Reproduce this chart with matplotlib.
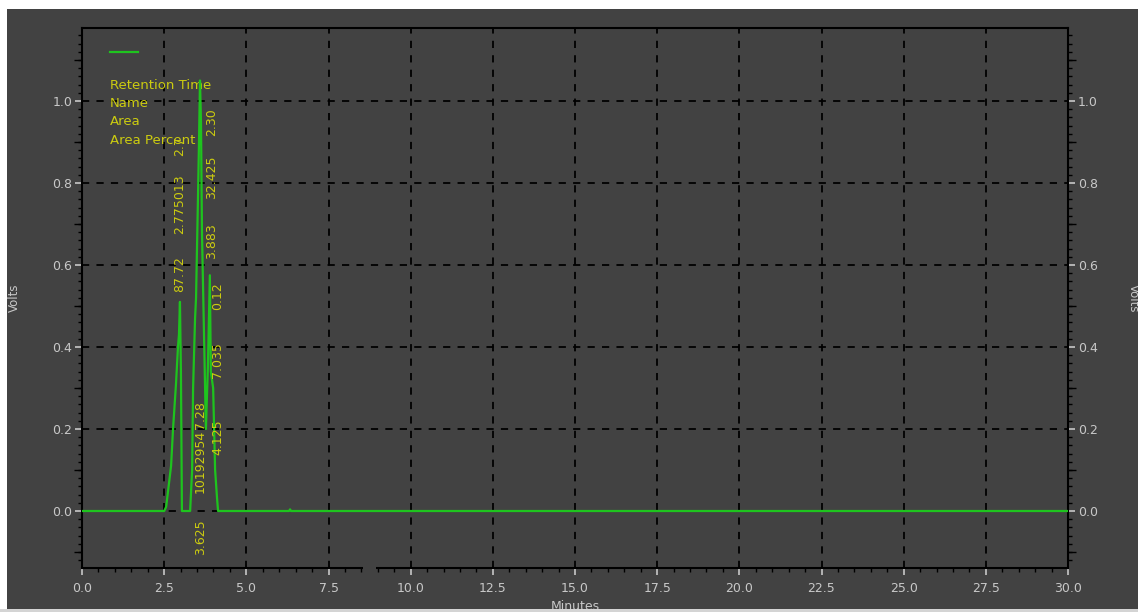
import matplotlib
matplotlib.use("Agg")
import matplotlib.pyplot as plt
from matplotlib.patches import Rectangle
from matplotlib.ticker import MultipleLocator, FixedLocator, FormatStrFormatter
import matplotlib.transforms as mtransforms

# chromatogram trace (minutes, volts)
time_min = [0.0, 2.50, 2.56, 2.62, 2.71, 2.77, 2.86, 2.92, 2.95, 2.98, 3.01, 3.04,
            3.29, 3.35, 3.38, 3.44, 3.47, 3.53, 3.56, 3.59, 3.62, 3.65, 3.71, 3.77,
            3.83, 3.89, 3.92, 3.99, 4.05, 4.11, 4.14, 6.30, 6.33, 6.36, 30.0]
volts = [0.0, 0.0, 0.01, 0.05, 0.11, 0.20, 0.31, 0.40, 0.43, 0.51, 0.34, 0.0,
         0.0, 0.10, 0.30, 0.47, 0.52, 0.77, 0.90, 1.05, 0.95, 0.68, 0.44, 0.20,
         0.35, 0.575, 0.34, 0.30, 0.10, 0.03, 0.0, 0.0, 0.004, 0.0, 0.0]

# peak annotations (text, minutes, volts at text start)
label_text = ["87.72", "2.775013", "2.7", "2.30", "32.425", "3.883",
              "0.12", "7.035", "4.125", "7.28", "10192954", "3.625"]
label_t = [2.97, 2.97, 2.97, 3.93, 3.93, 3.93,
           4.12, 4.12, 4.12, 3.60, 3.60, 3.60]
label_v = [0.535, 0.675, 0.865, 0.915, 0.76, 0.615,
           0.49, 0.325, 0.137, 0.20, 0.045, -0.107]

legend_fields = ["Retention Time", "Name", "Area", "Area Percent"]

BG = "#424242"
GREEN = "#1ec41e"
YELLOW = "#cccc10"
TICKC = "#c8c8c8"

fig = plt.figure(figsize=(11.38, 6.12), dpi=100, facecolor="white")
fig.patches.append(Rectangle((7 / 1138, 3 / 612), 1 - 7 / 1138, 600 / 612,
                             transform=fig.transFigure, facecolor=BG,
                             edgecolor="none", zorder=-10))
fig.add_artist(Rectangle((0, 0), 1, 3 / 612, transform=fig.transFigure,
                         facecolor="#d4d4d4", edgecolor="none", zorder=10))

ax = fig.add_axes([82 / 1138, 44 / 612, 986 / 1138, 540 / 612])
ax.set_facecolor(BG)
ax.set_xlim(0, 30)
ax.set_ylim(-0.139, 1.178)

ax.plot(time_min, volts, color=GREEN, lw=1.6, zorder=4)

for txt, t, v in zip(label_text, label_t, label_v):
    ax.text(t, v, txt, rotation=90, ha="center", va="bottom",
            color=YELLOW, fontsize=9, zorder=5)

# legend block
ax.plot([0.028, 0.057], [0.956, 0.956], color=GREEN, lw=1.6, transform=ax.transAxes)
for i, name in enumerate(legend_fields):
    ax.text(0.028, 0.893 - i * 0.0335, name, transform=ax.transAxes,
            color=YELLOW, fontsize=9.5, va="center", ha="left")

# grid & ticks
ax.xaxis.set_major_locator(MultipleLocator(2.5))
ax.xaxis.set_minor_locator(MultipleLocator(0.5))
ax.yaxis.set_major_locator(FixedLocator([0.0, 0.2, 0.4, 0.6, 0.8, 1.0]))
ax.yaxis.set_minor_locator(MultipleLocator(0.02))
ax.xaxis.set_major_formatter(FormatStrFormatter("%.1f"))
ax.yaxis.set_major_formatter(FormatStrFormatter("%.1f"))
ax.grid(True, which="major", color="black", linestyle=(0, (4, 4)), lw=1.3)

ax.tick_params(which="major", direction="out", length=5, width=1.2, color=TICKC,
               labelcolor=TICKC, labelsize=9, pad=2,
               left=True, right=True, labelleft=True, labelright=True)
ax.tick_params(which="minor", direction="out", length=3, width=1, color="black",
               left=True, right=True)
ax.tick_params(axis="x", which="major", pad=5)

# mid ticks at 0.1 steps on both y sides
for side in ("left", "right"):
    sec = ax.secondary_yaxis(side)
    sec.set_yticks([-0.1, 0.1, 0.3, 0.5, 0.7, 0.9, 1.1])
    sec.tick_params(length=6, width=1, color="black", labelleft=False, labelright=False)
    sec.spines[side].set_visible(False)

for sp in ax.spines.values():
    sp.set_color("black")
    sp.set_linewidth(1.5)

# axis break in the time axis
brk = mtransforms.blended_transform_factory(ax.transData, ax.transAxes)
ax.add_patch(Rectangle((8.55, -0.01), 0.4, 0.02, transform=brk, facecolor=BG,
                       edgecolor="none", clip_on=False, zorder=6))

ax.set_xlabel("Minutes", color=TICKC, fontsize=9)
ax.xaxis.set_label_coords(0.5, -0.059)
ax.set_ylabel("Volts", color=TICKC, fontsize=8.5)
ax.yaxis.set_label_coords(-0.062, 0.5)
ax.text(1.066, 0.5, "Volts", rotation=270, transform=ax.transAxes,
        color=TICKC, fontsize=8.5, ha="center", va="center")

fig.savefig("out.png", dpi=100, facecolor=fig.get_facecolor())
